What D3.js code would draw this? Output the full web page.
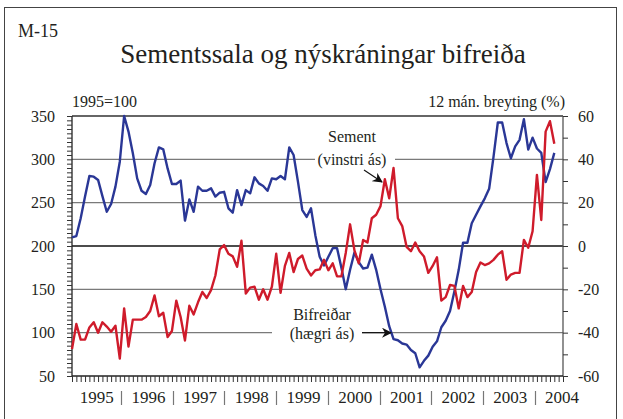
<!DOCTYPE html>
<html><head><meta charset="utf-8">
<script src="https://cdn.jsdelivr.net/npm/d3@7"></script>
<style>
body{margin:0;background:#fff}
svg{display:block}
text{font-family:"Liberation Serif","Times New Roman",serif}
</style>
</head><body>
<svg id="c" width="623" height="419"></svg>
<script>
// ---- data ----
const years = ["1995","1996","1997","1998","1999","2000","2001","2002","2003","2004"];
// Sementssala, 1995=100 (left axis), monthly Jan 1995 - Apr 2004
const sement = [81,110,92,92,106,112,100,112,107,101,
  108,70,128,84,115,115,115,118,125,143,
  119,123,95,102,137,118,91,131,121,135,
  147,140,149,166,196,201,191,188,176,206,
  145,152,153,138,150,138,153,191,146,177,
  192,170,185,189,174,166,172,173,184,172,
  180,165,165,192,225,195,180,207,204,232,
  236,246,277,255,290,232,223,199,194,204,
  194,188,169,177,187,137,141,155,154,128,
  154,141,147,170,181,178,180,184,190,194,
  161,167,169,169,207,198,217,282,230,332,
  344,318];
// Nýskráningar bifreiða, 12 mán. breyting % (right axis)
const bifreidar = [4,4.6,12.8,22.8,32.3,32,30.5,23,15.8,19.4,
  27.4,38.9,60,52.8,42.8,31.2,25.5,24,28.2,38.2,
  45.5,44.6,35.8,28.6,28.6,30.2,11.7,21.5,15.8,27.4,
  25.5,25.5,26.6,22.8,24.6,25,17.4,15.4,25.8,18.9,
  25.8,24.3,31.7,28.9,27.7,25.5,31.2,30.8,32.3,30.8,
  45.5,42,29.7,16.6,13.4,17.4,5,-5,-9,-5,
  -1,-1,-10,-20,-11,-3,-7.5,-10.4,-10,-4,
  -11,-20,-28,-37,-43,-43.5,-45,-45.5,-48,-49.5,
  -56,-53,-50.6,-46.5,-44,-37.5,-34.5,-30,-21,-11,
  1.5,1.5,10.5,14.4,18.3,22,26.4,41,57,57,
  47.5,40.5,46,49,58.5,44.5,50,45,43,29.5,
  35.5,43];
const leftTickLabels = [50,100,150,200,250,300,350];
const rightTickLabels = [-60,-40,-20,0,20,40,60];

// ---- layout ----
const svg = d3.select("#c");
const P = {l:72, r:563, t:116, b:376};
const nMonths = 113;
const x = d3.scaleLinear().domain([0, nMonths]).range([P.l, P.r]);
const yL = d3.scaleLinear().domain([50,350]).range([P.b, P.t]);
const yR = d3.scaleLinear().domain([-60,60]).range([P.b, P.t]);
const yearPos = d3.scalePoint().domain(years).range([96.7, 562]);

const blue = "#2a3796", red = "#cf1b2b", grid = "#7a7a7a", ink = "#231f20";

// outer frame
svg.append("rect").attr("x",4.5).attr("y",7.5).attr("width",612).attr("height",430)
  .attr("fill","none").attr("stroke","#444").attr("stroke-width",1);

// titles
svg.append("text").attr("x",18).attr("y",37).attr("font-size",18).attr("fill",ink).text("M-15");
svg.append("text").attr("x",323).attr("y",63).attr("font-size",27).attr("fill",ink).attr("text-anchor","middle")
  .text("Sementssala og nýskráningar bifreiða");
svg.append("text").attr("x",72).attr("y",107).attr("font-size",16).attr("fill",ink).text("1995=100");
svg.append("text").attr("x",565).attr("y",107).attr("font-size",16).attr("fill",ink).attr("text-anchor","end")
  .text("12 mán. breyting (%)");

// gridlines (with gaps for annotations)
const gaps = {300:[315,395], 100:[272,362]};
[100,150,250,300].forEach(v=>{
  const y = yL(v);
  const segs = gaps[v] ? [[P.l,gaps[v][0]],[gaps[v][1],P.r]] : [[P.l,P.r]];
  segs.forEach(s=>svg.append("line").attr("x1",s[0]).attr("x2",s[1]).attr("y1",y).attr("y2",y)
    .attr("stroke",grid).attr("stroke-width",1.3));
});
svg.append("line").attr("x1",P.l).attr("x2",P.r).attr("y1",yL(200)).attr("y2",yL(200))
  .attr("stroke","#111").attr("stroke-width",1.4);
svg.append("line").attr("x1",P.l).attr("x2",P.r).attr("y1",P.t).attr("y2",P.t)
  .attr("stroke","#333").attr("stroke-width",1.3);

// axes
const gL = svg.append("g").attr("transform",`translate(${P.l},0)`)
  .call(d3.axisLeft(yL).tickValues(d3.range(50,351,5)).tickSize(5).tickPadding(12)
    .tickFormat(d=>leftTickLabels.includes(d)?String(d):""));
const gR = svg.append("g").attr("transform",`translate(${P.r},0)`)
  .call(d3.axisRight(yR).tickValues(d3.range(-60,61,10)).tickSize(5).tickPadding(10)
    .tickFormat(d=>rightTickLabels.includes(d)?String(d):""));
const gB = svg.append("g").attr("transform",`translate(0,${P.b})`)
  .call(d3.axisBottom(x).tickValues(d3.range(0,nMonths+1)).tickSize(6).tickFormat(""));
[gL,gR,gB].forEach(g=>{
  g.selectAll("path.domain").attr("stroke","#222").attr("stroke-width",1.3);
  g.selectAll(".tick line").attr("stroke","#333").attr("stroke-width",1);
  g.selectAll("text").attr("font-family","Liberation Serif, serif").attr("font-size",16).attr("fill",ink);
});
gB.select("path.domain").attr("d",`M${P.l},0H${P.r}`);
gL.select("path.domain").attr("d",`M0,${yL(50)}V${yL(350)}`);
gR.select("path.domain").attr("d",`M0,${yR(-60)}V${yR(60)}`).attr("stroke","#555");

// year labels with separators
years.forEach((yr,i)=>{
  svg.append("text").attr("x",yearPos(yr)).attr("y",403).attr("font-size",17).attr("fill",ink)
    .attr("text-anchor","middle").text(yr);
  if(i<years.length-1){
    const mid = Math.round((yearPos(yr)+yearPos(years[i+1]))/2 - 1.5) + 0.5;
    svg.append("line").attr("x1",mid).attr("x2",mid).attr("y1",391).attr("y2",405)
      .attr("stroke","#777").attr("stroke-width",1.2);
  }
});

// series (red drawn on top)
const lineL = d3.line().x((d,i)=>x(i)).y(d=>yL(d));
const lineR = d3.line().x((d,i)=>x(i)).y(d=>yR(d));
svg.append("path").datum(bifreidar).attr("d",lineR).attr("fill","none")
  .attr("stroke",blue).attr("stroke-width",2.4).attr("stroke-linejoin","round");
svg.append("path").datum(sement).attr("d",lineL).attr("fill","none")
  .attr("stroke",red).attr("stroke-width",2.4).attr("stroke-linejoin","round");

// annotations
const defs = svg.append("defs");
defs.append("marker").attr("id","ah").attr("viewBox","0 0 10 10").attr("refX",9).attr("refY",5)
  .attr("markerWidth",10).attr("markerHeight",10).attr("markerUnits","userSpaceOnUse").attr("orient","auto")
  .append("path").attr("d","M0,0L10,5L0,10L3,5Z").attr("fill","#111");

svg.append("text").attr("x",352).attr("y",142).attr("font-size",16).attr("fill",ink).attr("text-anchor","middle").text("Sement");
svg.append("text").attr("x",352).attr("y",165).attr("font-size",16).attr("fill",ink).attr("text-anchor","middle").text("(vinstri ás)");
svg.append("line").attr("x1",364).attr("y1",170).attr("x2",382).attr("y2",182)
  .attr("stroke","#111").attr("stroke-width",1.2).attr("marker-end","url(#ah)");

svg.append("text").attr("x",322).attr("y",320).attr("font-size",16).attr("fill",ink).attr("text-anchor","middle").text("Bifreiðar");
svg.append("text").attr("x",322).attr("y",339).attr("font-size",16).attr("fill",ink).attr("text-anchor","middle").text("(hægri ás)");
svg.append("line").attr("x1",362).attr("y1",yL(100)).attr("x2",391).attr("y2",yL(100))
  .attr("stroke","#111").attr("stroke-width",1.2).attr("marker-end","url(#ah)");
</script>
</body></html>
